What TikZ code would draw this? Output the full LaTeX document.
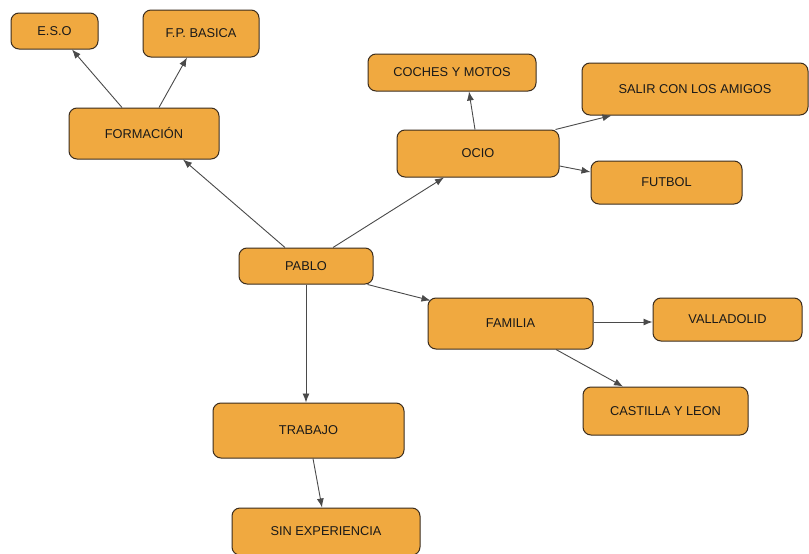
\documentclass[tikz,border=0pt]{standalone}
\usepackage{fontspec}
\setmainfont{Liberation Sans}
\usepackage{xcolor}
\usetikzlibrary{arrows, arrows.meta}
\usetikzlibrary{calc}
\definecolor{boxfill}{HTML}{F0A940}
\definecolor{boxline}{HTML}{3B2D1E}
\definecolor{linkgray}{HTML}{4A4A4A}
\tikzset{
  box/.style={rectangle, rounded corners=8pt, draw=boxline, line width=1pt, fill=boxfill,
    inner sep=0pt, font=\fontsize{12.8}{15}\selectfont, text=black!90},
  link/.style={draw=linkgray, line width=0.9pt, -{Latex[length=9pt,width=7pt]}}
}
\begin{document}
\begin{tikzpicture}[x=1pt, y=-1pt]
      \useasboundingbox[fill=white] (0,0) rectangle (809,554);
      \node[box, minimum width=87pt, minimum height=36pt] (eso) at (54.5,31) {E.S.O};
      \node[box, minimum width=116pt, minimum height=47pt] (fpb) at (201,33.5) {F.P. BASICA};
      \node[box, minimum width=150pt, minimum height=51pt] (formacion) at (144,133.5) {FORMACIÓN};
      \node[box, minimum width=168pt, minimum height=37pt] (coches) at (452,72.5) {COCHES Y MOTOS};
      \node[box, minimum width=226pt, minimum height=52pt] (salir) at (695,89) {SALIR CON LOS AMIGOS};
      \node[box, minimum width=162pt, minimum height=47pt] (ocio) at (478,153.5) {OCIO};
      \node[box, minimum width=151pt, minimum height=43pt] (futbol) at (666.5,182.5) {FUTBOL};
      \node[box, minimum width=134pt, minimum height=36pt] (pablo) at (306,266) {PABLO};
      \node[box, minimum width=165pt, minimum height=51pt] (familia) at (510.5,323.5) {FAMILIA};
      \node[box, minimum width=149pt, minimum height=43pt] (valladolid) at (727.5,319.5) {VALLADOLID};
      \node[box, minimum width=165pt, minimum height=48pt] (castilla) at (665.5,411) {CASTILLA Y LEON};
      \node[box, minimum width=191pt, minimum height=55pt] (trabajo) at (308.5,430.5) {TRABAJO};
      \node[box, minimum width=188pt, minimum height=47pt] (sinexp) at (326,531.5) {SIN EXPERIENCIA};

      \draw[link] ([xshift=-22pt]formacion.north) -- ([xshift=17.5pt]eso.south);
      \draw[link] ([xshift=15pt]formacion.north) -- ([xshift=-14pt]fpb.south);
      \draw[link] ([xshift=-21pt]pablo.north) -- ([xshift=39pt]formacion.south);
      \draw[link] ([xshift=27pt]pablo.north) -- ([xshift=-34pt]ocio.south);
      \draw[link] ([xshift=-3pt]ocio.north) -- ([xshift=17pt]coches.south);
      \draw[link] ([xshift=-4pt]ocio.north east) -- ([xshift=30pt]salir.south west);
      \draw[link] ([yshift=-12.5pt]ocio.east) -- ([yshift=10.5pt]futbol.west);
      \draw[link] ([xshift=-6pt]pablo.south east) -- ([xshift=3pt,yshift=-3pt]familia.north west);
      \draw[link] ([yshift=1.5pt]familia.east) -- ([yshift=-2.5pt]valladolid.west);
      \draw[link] ([xshift=45.5pt]familia.south) -- ([xshift=-42.5pt]castilla.north);
      \draw[link] (pablo.south) -- (pablo.south |- trabajo.north);
      \draw[link] ([xshift=4.5pt]trabajo.south) -- ([xshift=-4pt]sinexp.north);
    \end{tikzpicture}
\end{document}
